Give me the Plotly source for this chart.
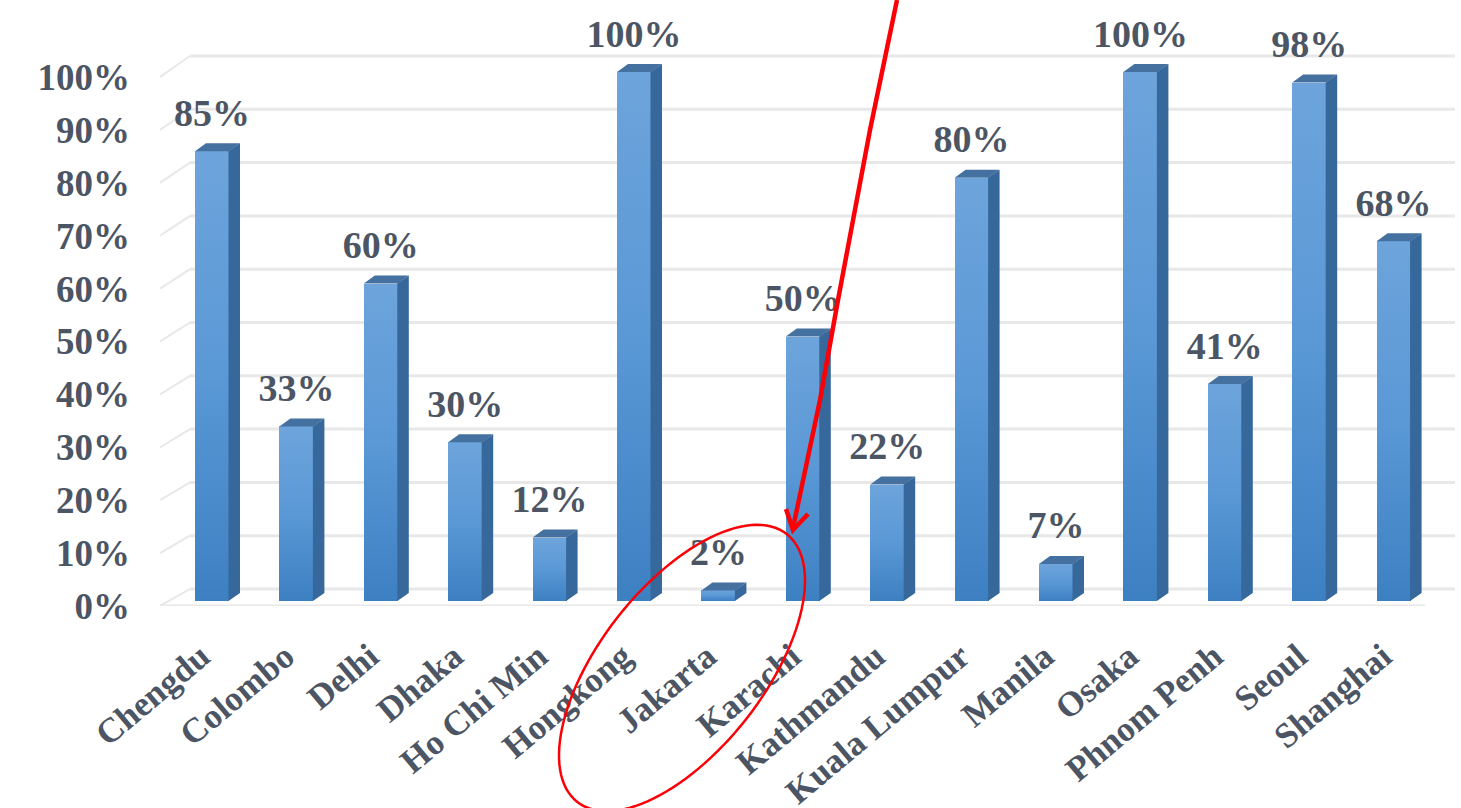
import math
import plotly.graph_objects as go

cities = ["Chengdu", "Colombo", "Delhi", "Dhaka", "Ho Chi Min", "Hongkong", "Jakarta", "Karachi",
          "Kathmandu", "Kuala Lumpur", "Manila", "Osaka", "Phnom Penh", "Seoul", "Shanghai"]
shares = [85, 33, 60, 30, 12, 100, 2, 50, 22, 80, 7, 100, 41, 98, 68]
y_ticks = [0, 10, 20, 30, 40, 50, 60, 70, 80, 90, 100]

W, H = 1461, 808
ML, MR, MT, MB = 160, 6, 6, 202
PX_Y = 5.29
PX_X = 84.4
X0 = 212
xr = [(ML - X0) / PX_X, (W - MR - X0) / PX_X]
yr = [0, (H - MT - MB) / PX_Y]
TEXT = "#4c5564"
FONT = "Liberation Serif"
BAR_W = 34 / PX_X
BASE = 5 / PX_Y
DX, DY = 11 / PX_X, 8 / PX_Y
BACK_X = (190 - X0) / PX_X
BACK_Y = 17 / PX_Y
BACK_SCALE = 533 / 529
GRID = "#e8e8e8"

idx = list(range(len(cities)))


def px(x, y):
    return (x - ML) / (W - ML - MR), (H - MB - y) / (H - MT - MB)


def pixel_path(points, close=False):
    d = []
    for i, (x, y) in enumerate(points):
        a, b = px(x, y)
        d.append(("M" if i == 0 else "L") + f"{a:.5f},{b:.5f}")
    return " ".join(d) + (" Z" if close else "")


shapes = []
for v in y_ticks:
    yb = v * BACK_SCALE + BACK_Y
    shapes.append(dict(type="line", layer="below", xref="x", yref="y", x0=BACK_X, x1=xr[1],
                       y0=yb, y1=yb, line=dict(color=GRID, width=3)))
    shapes.append(dict(type="line", layer="below", xref="x", yref="y", x0=xr[0], x1=BACK_X,
                       y0=v, y1=yb, line=dict(color=GRID, width=2)))
shapes.append(dict(type="line", layer="below", xref="x", yref="y", x0=xr[0], x1=xr[1] - (BACK_X - xr[0]),
                   y0=0, y1=0, line=dict(color=GRID, width=3)))

# red annotation: arrow and ellipse
shapes.append(dict(type="path", xref="paper", yref="paper", layer="above",
                   path=pixel_path([(897, 0), (870, 130), (838, 300), (820, 400), (793, 528)]),
                   line=dict(color="#fb0007", width=4.5)))
shapes.append(dict(type="path", xref="paper", yref="paper", layer="above",
                   path=pixel_path([(786, 509), (793, 530), (808, 514)]),
                   line=dict(color="#fb0007", width=4.5)))
cx, cy, a, b, ang = 682, 668, 170, 82, math.radians(52)
ell = []
for k in range(121):
    t = 2 * math.pi * k / 120
    ell.append((cx + a * math.cos(t) * math.cos(ang) + b * math.sin(t) * math.sin(ang),
                cy - a * math.cos(t) * math.sin(ang) + b * math.sin(t) * math.cos(ang)))
shapes.append(dict(type="path", xref="paper", yref="paper", layer="above",
                   path=pixel_path(ell, close=True), line=dict(color="#fb0007", width=2.5)))

fig = go.Figure()
fig.add_trace(go.Bar(x=idx, y=shares, base=[BASE] * len(idx), width=BAR_W,
                     marker=dict(color="#4f8fd0", line=dict(width=0)), hoverinfo="skip"))

side_x, side_y, top_x, top_y = [], [], [], []
for i, v in zip(idx, shares):
    r = i + BAR_W / 2
    l = i - BAR_W / 2
    t = BASE + v
    side_x += [r - 0.006, r + DX, r + DX, r - 0.006, r - 0.006, None]
    side_y += [BASE, BASE + DY, t + DY, t, BASE, None]
    top_x += [l, l + DX, r + DX, r, l, None]
    top_y += [t, t + DY, t + DY, t, t, None]
fig.add_trace(go.Scatter(x=side_x, y=side_y, mode="lines", fill="toself", fillcolor="#36689b",
                         line=dict(width=0), hoverinfo="skip"))
fig.add_trace(go.Scatter(x=top_x, y=top_y, mode="lines", fill="toself", fillcolor="#44719f",
                         line=dict(width=0), hoverinfo="skip"))
fig.add_trace(go.Scatter(x=idx, y=[v + 40 / PX_Y for v in shares], mode="text",
                         text=[f"{v}%" for v in shares], textposition="middle center", cliponaxis=False,
                         textfont=dict(family=FONT, size=38, color=TEXT, weight="bold"), hoverinfo="skip"))

fig.update_layout(
    width=W, height=H, autosize=False, showlegend=False, bargap=0,
    paper_bgcolor="white", plot_bgcolor="white",
    margin=dict(l=ML, r=MR, t=MT, b=MB, autoexpand=False),
    shapes=shapes,
    xaxis=dict(range=xr, tickmode="array", tickvals=idx, ticktext=cities, tickangle=-40,
               showgrid=False, zeroline=False, showline=False, ticks="", ticklabelstandoff=22,
               ticklabelshift=-11, automargin=False,
               tickfont=dict(family=FONT, size=35, color=TEXT, weight="bold")),
    yaxis=dict(range=yr, tickmode="array", tickvals=y_ticks, ticktext=[f"{v}%" for v in y_ticks],
               showgrid=False, zeroline=False, showline=False, ticks="", ticklabelstandoff=29,
               automargin=False, tickfont=dict(family=FONT, size=37, color=TEXT, weight="bold")),
)

post = """
document.body.style.margin='0';document.body.style.overflow='hidden';
var gd=document.querySelector('.plotly-graph-div');
var svg=gd.querySelector('svg.main-svg');
var NS='http://www.w3.org/2000/svg';
var defs=svg.querySelector('defs');
var g=document.createElementNS(NS,'linearGradient');
g.setAttribute('id','barGrad');g.setAttribute('x1','0');g.setAttribute('y1','0');g.setAttribute('x2','0');g.setAttribute('y2','1');
[['0','#6da4db'],['0.5','#5a98d6'],['1','#3d80c2']].forEach(function(s){var e=document.createElementNS(NS,'stop');e.setAttribute('offset',s[0]);e.setAttribute('stop-color',s[1]);g.appendChild(e);});
defs.appendChild(g);
gd.querySelectorAll('.bars .point path').forEach(function(p){p.style.fill='url(#barGrad)';});
"""
fig.write_html("out.html", post_script=post, config=dict(displayModeBar=False))
